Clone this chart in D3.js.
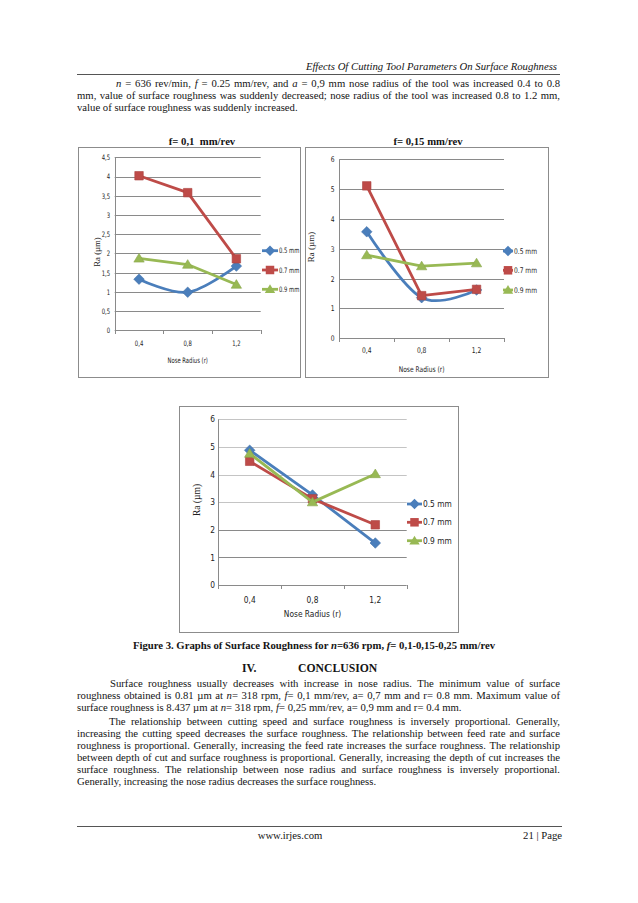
<!DOCTYPE html>
<html><head><meta charset="utf-8">
<script src="https://cdn.jsdelivr.net/npm/d3@7"></script>
<style>html,body{margin:0;padding:0;background:#fff;} svg{display:block;}</style>
</head><body>
<svg id="page" width="638" height="903"></svg>
<script>
// ---------- DATA ----------
const categories = ["0,4", "0,8", "1,2"];          // nose radius (mm)
const seriesNames = ["0.5 mm", "0.7 mm", "0.9 mm"]; // depth of cut
// f = 0,1 mm/rev
const f01_a05 = [1.33, 0.99, 1.67];
const f01_a07 = [4.02, 3.58, 1.86];
const f01_a09 = [1.87, 1.71, 1.19];
// f = 0,15 mm/rev
const f015_a05 = [3.57, 1.36, 1.62];
const f015_a07 = [5.11, 1.43, 1.64];
const f015_a09 = [2.79, 2.42, 2.52];
// f = 0,25 mm/rev
const f025_a05 = [4.88, 3.26, 1.52];
const f025_a07 = [4.48, 3.12, 2.18];
const f025_a09 = [4.76, 3.00, 4.02];
// tick labels
const yTicksF01 = [0, 0.5, 1, 1.5, 2, 2.5, 3, 3.5, 4, 4.5];
const yTicksF015 = [0, 1, 2, 3, 4, 5, 6];
const yTicksF025 = [0, 1, 2, 3, 4, 5, 6];
const chartTitles = ["f= 0,1  mm/rev", "f= 0,15 mm/rev"];
const yAxisTitle = "Ra (µm)";
const xAxisTitle = "Nose Radius (r)";

// ---------- PAGE TEXT ----------
const headerText = "Effects Of Cutting Tool Parameters On Surface Roughness";
const para1 = [
  "*n* = 636 rev/min,  *f* = 0.25 mm/rev, and *a* = 0,9 mm nose radius of the tool was increased 0.4 to 0.8",
  "mm, value of surface roughness was suddenly decreased; nose radius of the tool was increased 0.8 to 1.2 mm,",
  "value of surface roughness was suddenly increased."
];
const captionText = "Figure 3. Graphs of Surface Roughness for *n*=636 rpm, *f*= 0,1-0,15-0,25 mm/rev";
const sectionNum = "IV.", sectionTitle = "CONCLUSION";
const conclusion = [
  "Surface roughness usually decreases with increase in nose radius. The minimum value of surface",
  "roughness obtained is 0.81 µm at *n*= 318 rpm, *f*= 0,1 mm/rev, a= 0,7 mm and r= 0.8 mm. Maximum value of",
  "surface roughness is 8.437 µm at *n*= 318 rpm, *f*= 0,25 mm/rev, a= 0,9 mm and r= 0.4 mm.",
  "The relationship between cutting speed and surface roughness is inversely proportional. Generally,",
  "increasing the cutting speed decreases the surface roughness. The relationship between feed rate and surface",
  "roughness is proportional. Generally, increasing the feed rate increases the surface roughness. The relationship",
  "between depth of cut and surface roughness is proportional. Generally, increasing the depth of cut increases the",
  "surface roughness. The relationship between nose radius and surface roughness is inversely proportional.",
  "Generally, increasing the nose radius decreases the surface roughness."
];
const footerLeft = "www.irjes.com", footerRight = "21 | Page";

// ---------- STYLE ----------
const SERIF = "'Liberation Serif','Times New Roman',serif";
const NARROW = "'Liberation Sans Narrow','DejaVu Sans Condensed','Arial Narrow',sans-serif";
const INK = "#141414";
const COLORS = ["#4a7ebb", "#be4b48", "#98b954"];
const GRID = "#8a8a8a";

const svg = d3.select("#page");
svg.append("rect").attr("width", 638).attr("height", 903).attr("fill", "#fff");

function richLine(parent, str, x0, x1, y, opts) {
  const fs = opts.size || 10.7, weight = opts.weight || "normal";
  const words = str.split(" ").filter(w => w.length);
  let ital = !!opts.italic;
  const nodes = [];
  words.forEach(w => {
    const t = parent.append("text").attr("y", y).attr("font-family", SERIF)
      .attr("font-size", fs).attr("font-weight", weight).attr("fill", INK);
    w.split("*").forEach((p, i) => {
      if (i > 0) ital = !ital;
      if (p) t.append("tspan").attr("font-style", ital ? "italic" : "normal").text(p);
    });
    nodes.push(t);
  });
  const widths = nodes.map(n => n.node().getComputedTextLength());
  const total = d3.sum(widths);
  let gap = fs * 0.25;
  if (opts.justify && nodes.length > 1) gap = (x1 - x0 - total) / (nodes.length - 1);
  const full = total + gap * (nodes.length - 1);
  let x = opts.anchor === "middle" ? (x0 + x1) / 2 - full / 2 : opts.anchor === "end" ? x1 - full : x0;
  nodes.forEach((n, i) => { n.attr("x", x); x += widths[i] + gap; });
}

const page = svg.append("g");
// header
richLine(page, "*" + headerText + "*", 77, 557, 70, {anchor: "end", size: 10.7});
page.append("line").attr("x1", 77).attr("x2", 560).attr("y1", 74.5).attr("y2", 74.5)
  .attr("stroke", "#555").attr("stroke-width", 1);
// paragraph 1
const LM = 77, RM = 560;
para1.forEach((l, i) => richLine(page, l, i === 0 ? 116 : LM, RM, 86.5 + i * 12.3, {justify: i < para1.length - 1}));
// caption
richLine(page, captionText, 128, 500, 648.5, {anchor: "middle", weight: "bold", size: 10.7});
// section heading
page.append("text").attr("x", 242).attr("y", 672).attr("font-family", SERIF).attr("font-weight", "bold")
  .attr("font-size", 11.7).attr("fill", INK).text(sectionNum);
page.append("text").attr("x", 298).attr("y", 672).attr("font-family", SERIF).attr("font-weight", "bold")
  .attr("font-size", 11.7).attr("fill", INK).text(sectionTitle);
// conclusion
const lastOfPara = [2, 8];
const indentLines = {0: 110, 3: 109};
conclusion.forEach((l, i) => {
  const y = 686.5 + i * 12 + (i >= 3 ? 2 : 0);
  richLine(page, l, indentLines[i] || LM, RM, y, {justify: !lastOfPara.includes(i)});
});
// footer
page.append("line").attr("x1", 77).attr("x2", 562).attr("y1", 826.5).attr("y2", 826.5)
  .attr("stroke", "#555").attr("stroke-width", 1);
page.append("text").attr("x", 290).attr("y", 838.5).attr("text-anchor", "middle").attr("font-family", SERIF)
  .attr("font-size", 10.7).attr("fill", INK).text(footerLeft);
page.append("text").attr("x", 562).attr("y", 838.5).attr("text-anchor", "end").attr("font-family", SERIF)
  .attr("font-size", 10.7).attr("fill", INK).text(footerRight);

// chart titles
page.append("text").attr("x", 202).attr("y", 145).attr("text-anchor", "middle").attr("font-family", SERIF)
  .attr("font-weight", "bold").attr("font-size", 10.7).attr("fill", INK).attr("xml:space", "preserve").text(chartTitles[0]);
page.append("text").attr("x", 428).attr("y", 145).attr("text-anchor", "middle").attr("font-family", SERIF)
  .attr("font-weight", "bold").attr("font-size", 10.7).attr("fill", INK).text(chartTitles[1]);

// ---------- CHARTS ----------
function markerPath(type, s) {
  const p = d3.path();
  if (type === 0) { const r = s * 0.62; p.moveTo(0, -r); p.lineTo(r, 0); p.lineTo(0, r); p.lineTo(-r, 0); p.closePath(); }
  else if (type === 1) { const h = s * 0.5; p.rect(-h, -h, 2 * h, 2 * h); }
  else { const h = s * 0.58; p.moveTo(0, -h); p.lineTo(h * 1.05, h * 0.75); p.lineTo(-h * 1.05, h * 0.75); p.closePath(); }
  return p.toString();
}

function squeeze(sel, k) {
  if (k === 1) return;
  sel.each(function () {
    const w = this.getComputedTextLength();
    d3.select(this).attr("textLength", w * k).attr("lengthAdjust", "spacingAndGlyphs");
  });
}

function drawChart(cfg, series, ticks) {
  const g = svg.append("g");
  g.append("rect").attr("x", cfg.box[0] + 0.5).attr("y", cfg.box[1] + 0.5).attr("width", cfg.box[2]).attr("height", cfg.box[3])
    .attr("fill", "#fff").attr("stroke", "#8c8c8c").attr("stroke-width", 1);
  const x = d3.scaleBand().domain(categories).range([cfg.plot.l, cfg.plot.r]);
  const y = d3.scaleLinear().domain([0, d3.max(ticks)]).range([cfg.plot.b, cfg.plot.t]);
  const cx = c => x(c) + x.bandwidth() / 2;
  // grid
  g.append("g").selectAll("line").data(ticks).join("line")
    .attr("x1", cfg.plot.l).attr("x2", cfg.plot.r)
    .attr("y1", d => Math.round(y(d)) + 0.5).attr("y2", d => Math.round(y(d)) + 0.5)
    .attr("stroke", d => (cfg.lightAbove !== undefined && d > cfg.lightAbove) ? "#c4c4c4" : GRID).attr("stroke-width", 1);
  // y axis line
  g.append("line").attr("x1", Math.round(cfg.plot.l) + 0.5).attr("x2", Math.round(cfg.plot.l) + 0.5)
    .attr("y1", cfg.plot.t).attr("y2", cfg.plot.b + 0.5).attr("stroke", GRID);
  // x category ticks
  g.append("g").selectAll("line").data(d3.range(categories.length + 1)).join("line")
    .attr("x1", i => Math.round(cfg.plot.l + i * x.bandwidth()) + 0.5)
    .attr("x2", i => Math.round(cfg.plot.l + i * x.bandwidth()) + 0.5)
    .attr("y1", Math.round(cfg.plot.b)).attr("y2", Math.round(cfg.plot.b) + 4).attr("stroke", GRID);
  // y tick labels
  const ya = d3.axisLeft(y).tickValues(ticks).tickSize(0).tickPadding(cfg.plot.l - cfg.tickX)
    .tickFormat(d => String(d).replace(".", ","));
  const yg = g.append("g").attr("transform", `translate(${cfg.plot.l},0)`).call(ya);
  yg.select(".domain").remove();
  yg.selectAll("text").attr("font-family", NARROW).attr("font-size", cfg.fs).attr("fill", "#222");
  squeeze(yg.selectAll("text"), cfg.sq);
  // x tick labels
  const xa = d3.axisBottom(x).tickSize(0).tickPadding(0);
  const xg = g.append("g").attr("transform", `translate(0,${cfg.xLabY})`).call(xa);
  xg.select(".domain").remove();
  xg.selectAll("text").attr("dy", "0.35em").attr("font-family", NARROW).attr("font-size", cfg.fs).attr("fill", "#222");
  squeeze(xg.selectAll("text"), cfg.sq);
  // titles
  const xt = g.append("text").attr("x", (cfg.plot.l + cfg.plot.r) / 2).attr("y", cfg.xTitleY).attr("dy", "0.35em")
    .attr("text-anchor", "middle").attr("font-family", NARROW).attr("font-size", cfg.fs).attr("fill", "#222").text(xAxisTitle);
  squeeze(xt, cfg.sq);
  g.append("text").attr("transform", `translate(${cfg.yTitle[0]},${cfg.yTitle[1]}) rotate(-90)`)
    .attr("text-anchor", "middle").attr("dy", "0.35em").attr("font-family", SERIF).attr("font-size", cfg.fs + 1.2)
    .attr("fill", "#222").text(yAxisTitle);
  // series
  series.forEach((vals, si) => {
    const pts = vals.map((v, i) => [cx(categories[i]), y(v)]);
    const line = d3.line().curve(cfg.smooth[si] ? d3.curveCardinal.tension(0) : d3.curveLinear);
    g.append("path").attr("d", line(pts)).attr("fill", "none").attr("stroke", COLORS[si])
      .attr("stroke-width", cfg.lw).attr("stroke-linejoin", "round").attr("stroke-linecap", "round");
    g.append("g").selectAll("path").data(pts).join("path")
      .attr("transform", d => `translate(${d[0]},${d[1]})`).attr("d", markerPath(si, cfg.ms))
      .attr("fill", COLORS[si]).attr("stroke", d3.color(COLORS[si]).darker(0.3)).attr("stroke-width", 0.6);
  });
  // legend
  seriesNames.forEach((name, si) => {
    const ly = cfg.legend.rows[si];
    g.append("line").attr("x1", cfg.legend.x).attr("x2", cfg.legend.x + cfg.legend.len).attr("y1", ly).attr("y2", ly)
      .attr("stroke", COLORS[si]).attr("stroke-width", cfg.lw);
    g.append("path").attr("transform", `translate(${cfg.legend.x + cfg.legend.len / 2},${ly})`)
      .attr("d", markerPath(si, cfg.ms)).attr("fill", COLORS[si]);
    const lt = g.append("text").attr("x", cfg.legend.x + cfg.legend.len + 1).attr("y", ly).attr("dy", "0.35em")
      .attr("font-family", NARROW).attr("font-size", cfg.fs).attr("fill", "#222").text(name);
    squeeze(lt, cfg.sq);
  });
}

drawChart({
  box: [78, 147, 222, 230], plot: {l: 114.7, r: 260.7, t: 157.3, b: 330.3}, tickX: 110,
  xLabY: 343, xTitleY: 360, yTitle: [97, 252], fs: 7.5, sq: 0.78, lw: 2.8, ms: 8.5,
  legend: {x: 262, len: 16, rows: [250.7, 270, 289.3]}, smooth: [true, false, false]
}, [f01_a05, f01_a07, f01_a09], yTicksF01);

drawChart({
  box: [305, 147, 243, 230], plot: {l: 339.3, r: 504, t: 159.3, b: 338.3}, tickX: 334.5,
  xLabY: 350, xTitleY: 369, yTitle: [311, 247], fs: 7.8, sq: 0.85, lw: 2.8, ms: 8.5,
  legend: {x: 503, len: 10, rows: [251, 270.3, 290]}, smooth: [true, false, false]
}, [f015_a05, f015_a07, f015_a09], yTicksF015);

drawChart({
  box: [179, 406, 279, 226], plot: {l: 218.3, r: 406.7, t: 419.3, b: 585}, tickX: 215,
  xLabY: 600, xTitleY: 614, yTitle: [197, 500], fs: 8.3, sq: 1, lw: 2.8, ms: 8.5, lightAbove: 2,
  legend: {x: 407, len: 15, rows: [504, 522.3, 540.7]}, smooth: [false, false, false]
}, [f025_a05, f025_a07, f025_a09], yTicksF025);
</script>
</body></html>
